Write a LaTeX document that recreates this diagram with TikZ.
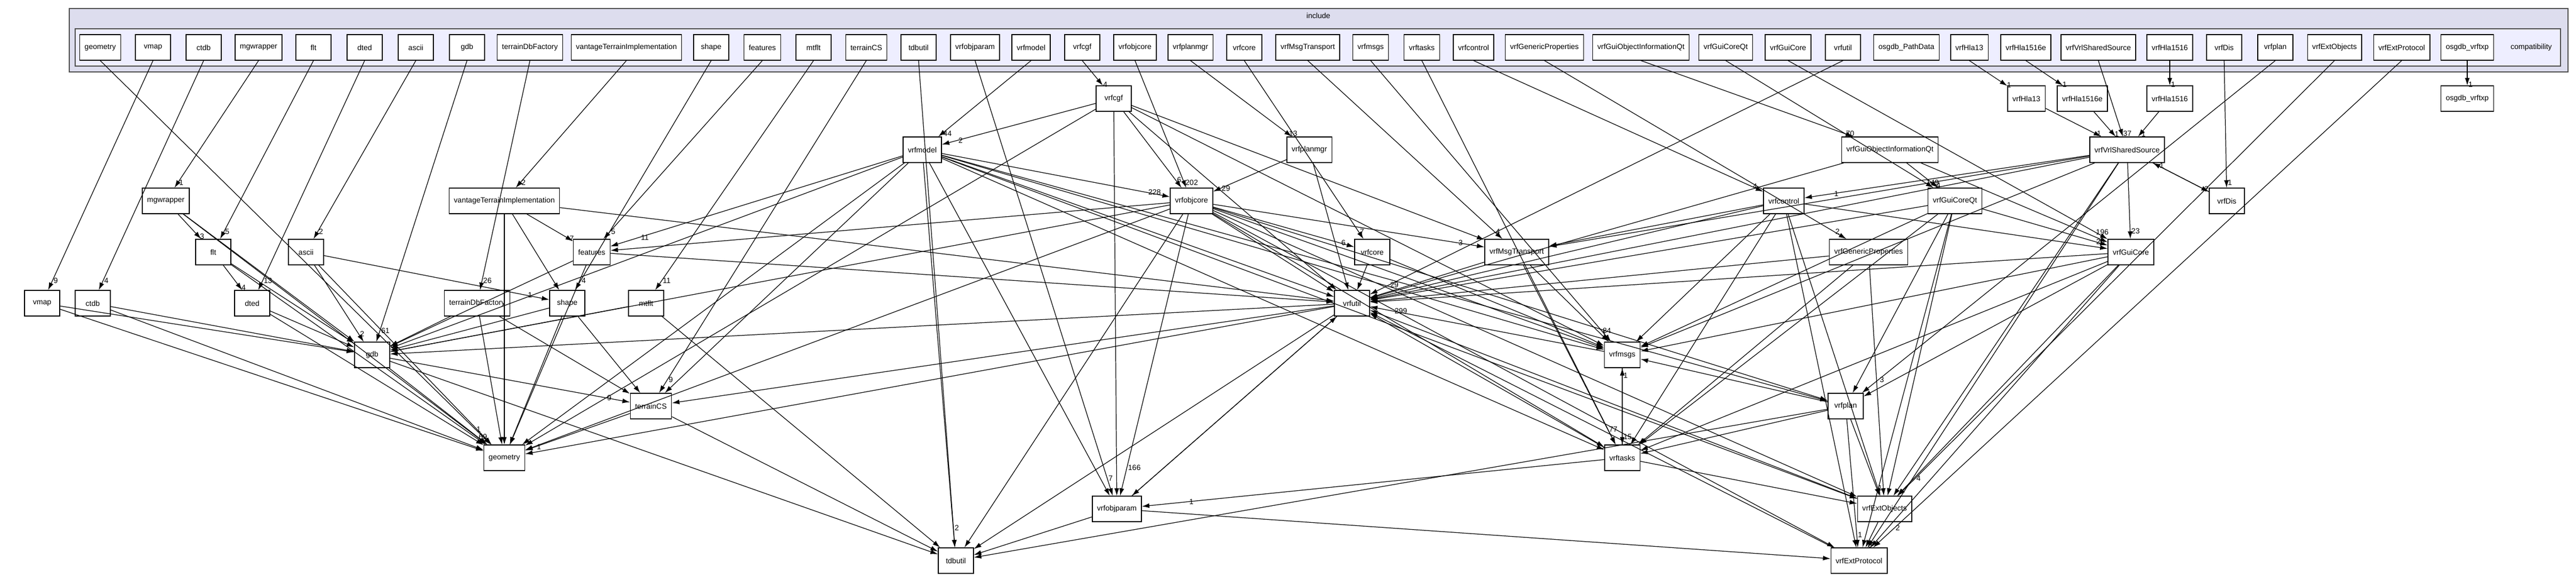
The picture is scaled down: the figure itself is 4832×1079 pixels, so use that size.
\documentclass[tikz,border=0pt]{standalone}
\usepackage{fontspec}
\setmainfont{Liberation Sans}
\usetikzlibrary{arrows.meta}
\definecolor{outerfill}{RGB}{221,221,238}
\definecolor{innerfill}{RGB}{238,238,255}
\tikzset{
		>={Latex[length=1.4mm,width=0.9mm]},
		dirbox/.style={draw, fill=white, minimum height=0.48cm, minimum width=0.66cm,
			inner xsep=0.09cm, font=\fontsize{4}{5}\selectfont},
		dep/.style={->, line width=0.35pt},
		lbl/.style={font=\fontsize{4}{5}\selectfont, inner sep=0.5pt, right}
	}
\begin{document}
\begin{tikzpicture}[x=0.01cm, y=-0.01cm]
          \useasboundingbox (0,0) rectangle (4832,1079);
          % folder frames
          \draw[fill=outerfill, draw=black!70, line width=0.6pt] (130,16) rectangle (4817,135);
          \draw[fill=innerfill, draw=black!70, line width=0.6pt] (141,54) rectangle (4803,124);
          \node[font=\fontsize{4}{5}\selectfont] (lblinclude) at (2473,29) {include};
          \node[font=\fontsize{4}{5}\selectfont] (lblcompat) at (4748,89) {compatibility};

          % sub folders
          \foreach \nm/\x/\t in {geometry/188/geometry, vmap/287/vmap, ctdb/382/ctdb,
              mgwrapper/485/mgwrapper, flt/588/flt, dted/684/dted, ascii/780/ascii,
              gdb/876/gdb, terrainDbFactory/994/terrainDbFactory,
              vantageTerrainImplementation/1175/vantageTerrainImplementation,
              shape/1334/shape, features/1430/features, mtflt/1526/mtflt,
              terrainCS/1625/terrainCS, tdbutil/1723/tdbutil, vrfobjparam/1829/vrfobjparam,
              vrfmodel/1934/vrfmodel, vrfcgf/2030/vrfcgf, vrfobjcore/2129/vrfobjcore,
              vrfplanmgr/2233/vrfplanmgr, vrfcore/2334/vrfcore,
              vrfMsgTransport/2453/vrfMsgTransport, vrfmsgs/2571/vrfmsgs,
              vrftasks/2667/vrftasks, vrfcontrol/2764/vrfcontrol,
              vrfGenericProperties/2897/vrfGenericProperties,
              vrfGuiObjectInformationQt/3078/vrfGuiObjectInformationQt,
              vrfGuiCoreQt/3237/vrfGuiCoreQt, vrfGuiCore/3354/vrfGuiCore,
              vrfutil/3457/vrfutil, osgdbPathData/3576/osgdb\_PathData,
              vrfHlaXIII/3694/vrfHla13, vrfHlaXVe/3800/vrfHla1516e,
              vrfVrlSharedSource/3936/vrfVrlSharedSource, vrfHlaXV/4070/vrfHla1516,
              vrfDis/4172/vrfDis, vrfplan/4268/vrfplan, vrfExtObjects/4379/vrfExtObjects,
              vrfExtProtocol/4505/vrfExtProtocol, osgdbvrftxp/4628/osgdb\_vrftxp}
            \node[dirbox] (f\nm) at (\x,89) {\t};

          % graph nodes
          \foreach \nm/\x/\y/\t in {mgwrapper/311/377/mgwrapper,
              vantageTerrainImplementation/946/377/vantageTerrainImplementation,
              flt/400/473/flt, ascii/574/473/ascii, features/1110/473/features,
              vmap/79/569/vmap, ctdb/174/569/ctdb, dted/473/569/dted,
              terrainDbFactory/895/569/terrainDbFactory, shape/1064/569/shape,
              mtflt/1212/569/mtflt, gdb/698/666/gdb, terrainCS/1221/762/terrainCS,
              geometry/946/859/geometry, vrfcgf/2089/185/vrfcgf,
              vrfmodel/1730/281/vrfmodel, vrfplanmgr/2456/281/vrfplanmgr,
              vrfobjcore/2235/377/vrfobjcore, vrfcore/2574/473/vrfcore,
              vrfMsgTransport/2845/473/vrfMsgTransport,
              vrfHlaXIII/3801/185/vrfHla13, vrfHlaXVe/3906/185/vrfHla1516e,
              vrfHlaXV/4070/185/vrfHla1516, osgdbvrftxp/4628/185/osgdb\_vrftxp,
              vrfGuiObjectInformationQt/3545/281/vrfGuiObjectInformationQt,
              vrfVrlSharedSource/3990/281/vrfVrlSharedSource,
              vrfcontrol/3346/377/vrfcontrol, vrfGuiCoreQt/3667/377/vrfGuiCoreQt,
              vrfDis/4177/377/vrfDis,
              vrfGenericProperties/3505/473/vrfGenericProperties,
              vrfGuiCore/3997/473/vrfGuiCore, vrfutil/2536/569/vrfutil,
              vrfmsgs/3043/666/vrfmsgs, vrftasks/3043/859/vrftasks,
              vrfobjparam/2095/955/vrfobjparam, tdbutil/1793/1052/tdbutil,
              vrfplan/3462/762/vrfplan, vrfExtObjects/3535/955/vrfExtObjects,
              vrfExtProtocol/3487/1052/vrfExtProtocol}
            \node[dirbox] (\nm) at (\x,\y) {\t};

          % folder to node
          \foreach \nm/\c in {geometry/1, vmap/9, ctdb/4, mgwrapper/1, flt/5, dted/13,
              ascii/2, gdb/61, terrainDbFactory/26, vantageTerrainImplementation/2,
              shape/4, features/5, mtflt/11, terrainCS/9, tdbutil/2, vrfobjparam/7,
              vrfmodel/44, vrfcgf/4, vrfobjcore/202, vrfplanmgr/13, vrfcore/7,
              vrfMsgTransport/4, vrfmsgs/84, vrftasks/77, vrfcontrol/4,
              vrfGenericProperties/2, vrfGuiObjectInformationQt/70, vrfGuiCoreQt/149,
              vrfGuiCore/196, vrfutil/29, vrfHlaXIII/1, vrfHlaXVe/1,
              vrfVrlSharedSource/37, vrfHlaXV/1, vrfDis/1, vrfplan/3,
              vrfExtObjects/4, vrfExtProtocol/2, osgdbvrftxp/1}
            \draw[dep] (f\nm.south) -- node[lbl, pos=0.96]{\c} (\nm);

          % node to node, labelled
          \foreach \a/\b/\c in {mgwrapper/flt/3, vantageTerrainImplementation/features/7,
              flt/dted/4, ascii/gdb/2, ascii/shape/1, gdb/geometry/69, gdb/terrainCS/9,
              vrfcgf/vrfmodel/2, vrfcgf/vrfobjcore/6, vrfmodel/vrfobjcore/228,
              vrfmodel/features/11, vrfplanmgr/vrfobjcore/29, vrfobjcore/vrfcore/6,
              vrfobjcore/vrfMsgTransport/3, vrfobjcore/vrfobjparam/166,
              vrfHlaXIII/vrfVrlSharedSource/1, vrfHlaXVe/vrfVrlSharedSource/1,
              vrfHlaXV/vrfVrlSharedSource/1, vrfVrlSharedSource/vrfDis/2,
              vrfDis/vrfVrlSharedSource/1, vrfVrlSharedSource/vrfcontrol/1,
              vrfVrlSharedSource/vrfGuiCore/23, vrfGuiObjectInformationQt/vrfGuiCoreQt/4,
              vrfGuiCoreQt/vrfGuiCore/25, vrfmsgs/vrftasks/15, vrftasks/vrfmsgs/1,
              vrfmsgs/vrfutil/299, vrftasks/vrfobjparam/1, vrfplan/vrfExtObjects/1,
              vrfplan/vrfExtProtocol/1, vrfExtObjects/vrfExtProtocol/9,
              terrainCS/geometry/1, vrfMsgTransport/vrfmsgs/1}
            \draw[dep] (\a) -- node[lbl, pos=0.9]{\c} (\b);

          % node to node
          \foreach \a/\b in {mgwrapper/gdb, mgwrapper/geometry, vantageTerrainImplementation/shape,
              vantageTerrainImplementation/geometry, vantageTerrainImplementation/vrfutil,
              flt/gdb, flt/geometry, ascii/geometry, features/gdb, features/geometry,
              features/vrfutil, vmap/gdb, vmap/geometry, ctdb/gdb, ctdb/geometry,
              dted/gdb, dted/geometry, terrainDbFactory/gdb, terrainDbFactory/geometry,
              terrainDbFactory/terrainCS, shape/gdb, shape/geometry, shape/terrainCS,
              mtflt/gdb, mtflt/tdbutil, gdb/tdbutil, terrainCS/tdbutil,
              vrfcgf/vrfutil, vrfcgf/vrfMsgTransport, vrfcgf/vrfmsgs, vrfcgf/vrfobjparam,
              vrfcgf/geometry, vrfmodel/gdb, vrfmodel/geometry, vrfmodel/terrainCS,
              vrfmodel/tdbutil, vrfmodel/vrfutil, vrfmodel/vrfmsgs, vrfmodel/vrftasks,
              vrfmodel/vrfobjparam, vrfmodel/vrfExtObjects, vrfmodel/vrfplan,
              vrfplanmgr/vrfutil, vrfobjcore/vrfutil, vrfobjcore/vrfmsgs,
              vrfobjcore/vrftasks, vrfobjcore/tdbutil, vrfobjcore/geometry,
              vrfobjcore/gdb, vrfobjcore/features, vrfobjcore/vrfExtObjects,
              vrfobjcore/vrfExtProtocol, vrfobjcore/vrfplan, vrfcore/vrfutil,
              vrfcore/vrfmsgs, vrfMsgTransport/vrfutil, vrfMsgTransport/vrftasks,
              vrfVrlSharedSource/vrfutil, vrfVrlSharedSource/vrfMsgTransport,
              vrfVrlSharedSource/vrfExtObjects, vrfVrlSharedSource/vrfExtProtocol,
              vrfVrlSharedSource/vrfmsgs, vrfGuiObjectInformationQt/vrfGuiCore,
              vrfGuiObjectInformationQt/vrfutil, vrfGuiCoreQt/vrfutil,
              vrfGuiCoreQt/vrfmsgs, vrfGuiCoreQt/vrftasks, vrfGuiCoreQt/vrfplan,
              vrfGuiCoreQt/vrfExtObjects, vrfGuiCoreQt/vrfExtProtocol,
              vrfcontrol/vrfutil, vrfcontrol/vrfmsgs, vrfcontrol/vrfMsgTransport,
              vrfcontrol/vrftasks, vrfcontrol/vrfExtObjects, vrfcontrol/vrfExtProtocol,
              vrfcontrol/vrfGuiCore, vrfGenericProperties/vrfutil,
              vrfGenericProperties/vrftasks, vrfGenericProperties/vrfExtObjects,
              vrfGuiCore/vrfutil, vrfGuiCore/vrfmsgs, vrfGuiCore/vrfplan,
              vrfGuiCore/vrftasks, vrfGuiCore/vrfExtObjects, vrfGuiCore/vrfExtProtocol,
              vrfutil/tdbutil, vrfutil/vrfobjparam, vrfutil/gdb, vrfutil/terrainCS,
              vrfutil/geometry, vrftasks/vrfExtObjects, vrftasks/vrfutil,
              vrfobjparam/tdbutil, vrfobjparam/vrfExtProtocol, vrfobjparam/vrfutil,
              vrfplan/vrfmsgs, vrfplan/tdbutil, vrfplan/vrftasks,
              vrfExtObjects/vrfutil, vrfExtProtocol/vrfutil}
            \draw[dep] (\a) -- (\b);

          \end{tikzpicture}
\end{document}
